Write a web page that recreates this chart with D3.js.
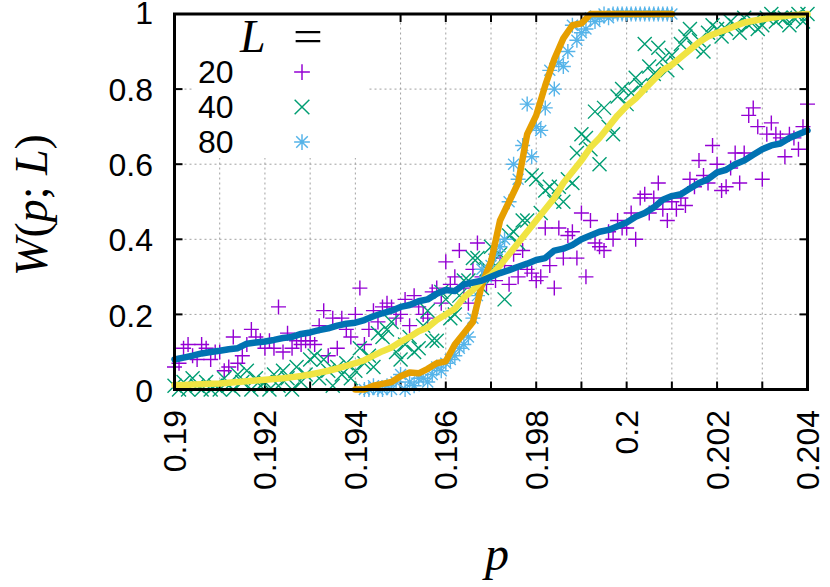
<!DOCTYPE html>
<meta charset="utf-8">
<style>
    body { margin: 0; background: #fff; }
    .grid { stroke: #a0a0a0; stroke-width: 1px; stroke-dasharray: 2,3; }
    .border { fill: none; stroke: #000; stroke-width: 3px; }
    .tick { stroke: #000; stroke-width: 2px; }
    .tick-label { font-family: 'Liberation Sans', Arial, sans-serif; font-size: 32px; fill: #000; }
    .math { font-family: 'Liberation Serif', 'DejaVu Serif', serif; fill: #000; }
    .fit { fill: none; stroke-width: 6.5px; stroke-linejoin: round; stroke-linecap: round; }
    .pt { fill: none; stroke-width: 1.4px; }
</style>
<body>
<div id="chart"></div>
<script src="https://cdn.jsdelivr.net/npm/d3@7"></script>
<script>
    var width = 830,
        height = 587;

    // p grid: points every 0.0001, fitted curves every 0.0002
    var p_start = 0.19,
        pt_step = 0.0001,
        fit_step = 0.0002;

    // measured W(p;L), L = 20, from p = 0.1900
    var w20 = [
        0.06, 0.07, 0.11, 0.12, 0.09, 0.08, 0.12, 0.11, 0.08, 0.10,
        0.10, 0.05, 0.06, 0.14, 0.07, 0.09, 0.12, 0.16, 0.14, 0.13,
        0.11, 0.13, 0.11, 0.22, 0.10, 0.15, 0.11, 0.13, 0.12, 0.13,
        0.13, 0.12, 0.17, 0.21, 0.09, 0.19, 0.11, 0.19, 0.16, 0.14,
        0.20, 0.27, 0.12, 0.16, 0.21, 0.18, 0.22, 0.23, 0.22, 0.19,
        0.20, 0.24, 0.17, 0.25, 0.22, 0.20, 0.19, 0.26, 0.27, 0.23,
        0.34, 0.28, 0.30, 0.37, 0.27, 0.23, 0.32, 0.39, 0.30, 0.28,
        0.31, 0.29, 0.35, 0.33, 0.28, 0.36, 0.30, 0.37, 0.32, 0.31,
        0.29, 0.30, 0.43, 0.33, 0.27, 0.43, 0.35, 0.41, 0.42, 0.35,
        0.47, 0.30, 0.45, 0.39, 0.38, 0.37, 0.42, 0.40, 0.45, 0.43,
        0.43, 0.47, 0.40, 0.51, 0.52, 0.47, 0.51, 0.55, 0.48, 0.45,
        0.50, 0.48, 0.51, 0.49, 0.56, 0.54, 0.61, 0.57, 0.55, 0.65,
        0.60, 0.53, 0.54, 0.59, 0.63, 0.55, 0.63, 0.73, 0.75, 0.70,
        0.56, 0.68, 0.71, 0.68, 0.67, 0.62, 0.68, 0.67, 0.64, 0.70, 0.76
    ];

    // L = 40, from p = 0.1900
    var w40 = [
        0.01, 0.00, 0.02, 0.00, 0.03, 0.01, 0.00, 0.02, 0.00, 0.01,
        0.00, 0.03, 0.01, 0.00, 0.04, 0.02, 0.05, 0.00, 0.03, 0.01,
        0.02, 0.00, 0.04, 0.01, 0.05, 0.03, 0.00, 0.06, 0.02, 0.04,
        0.08, 0.09, 0.03, 0.08, 0.05, 0.01, 0.06, 0.04, 0.07, 0.03,
        0.05, 0.11, 0.07, 0.09, 0.06, 0.15, 0.14, 0.16, 0.18, 0.10,
        0.08, 0.12, 0.14, 0.10, 0.11, 0.17, 0.21, 0.13, 0.13, 0.26,
        0.24, 0.19, 0.20, 0.25, 0.29, 0.29, 0.35, 0.35, 0.27, 0.32,
        0.38, 0.33, 0.36, 0.24, 0.41, 0.42, 0.39, 0.45, 0.45, 0.57,
        0.56, 0.47, 0.53, 0.54, 0.50, 0.54, 0.50, 0.56, 0.55, 0.63,
        0.68, 0.67, 0.64, 0.74, 0.60, 0.75, 0.70, 0.68, 0.78, 0.80,
        0.76, 0.79, 0.83, 0.81, 0.92, 0.86, 0.84, 0.91, 0.88, 0.85,
        0.89, 0.87, 0.92, 0.94, 0.96, 0.91, 0.93, 0.90, 0.95, 0.97,
        0.96, 0.94, 0.96, 0.98, 0.97, 0.95, 0.99, 0.97, 0.98, 0.96,
        0.97, 0.99, 1.00, 0.98, 0.99, 0.99, 0.97, 0.99, 1.00, 0.98, 1.00
    ];

    // L = 80, from p = 0.1942
    var p80_start = 0.1942;
    var w80 = [
        0.00, 0.00, 0.01, 0.00, 0.00, 0.01, 0.00, 0.02,
        0.04, 0.00, 0.02, 0.01, 0.03, 0.03, 0.02, 0.04, 0.06, 0.05,
        0.07, 0.08, 0.09, 0.11, 0.12, 0.14, 0.19, 0.25, 0.32, 0.30,
        0.33, 0.36, 0.38, 0.40, 0.50, 0.60, 0.56, 0.65, 0.76, 0.62,
        0.70, 0.69, 0.75, 0.85, 0.80, 0.87, 0.86, 0.90, 0.97, 0.93,
        0.95, 0.96, 0.99, 0.98, 0.99, 1.00, 0.99, 1.00, 1.00, 1.00,
        1.00, 1.00, 1.00, 1.00, 1.00, 1.00, 1.00, 1.00, 1.00, 1.00, 1.00
    ];

    // fitted curves
    var fit20 = [
        0.080, 0.085, 0.090, 0.096, 0.100, 0.103, 0.107, 0.110, 0.122, 0.125,
        0.128, 0.132, 0.137, 0.140, 0.148, 0.152, 0.158, 0.163, 0.170, 0.175,
        0.178, 0.185, 0.195, 0.203, 0.210, 0.220, 0.225, 0.235, 0.240, 0.255,
        0.265, 0.262, 0.280, 0.285, 0.290, 0.300, 0.310, 0.318, 0.327, 0.335,
        0.345, 0.350, 0.370, 0.375, 0.385, 0.400, 0.410, 0.420, 0.425, 0.435,
        0.445, 0.460, 0.470, 0.485, 0.505, 0.515, 0.520, 0.535, 0.550, 0.560,
        0.578, 0.585, 0.600, 0.610, 0.625, 0.640, 0.650, 0.655, 0.670, 0.680, 0.690
    ];
    var fit40 = [
        0.012, 0.012, 0.013, 0.014, 0.015, 0.016, 0.018, 0.020, 0.022, 0.024,
        0.026, 0.028, 0.030, 0.033, 0.036, 0.040, 0.045, 0.050, 0.056, 0.063,
        0.070, 0.078, 0.090, 0.102, 0.112, 0.127, 0.140, 0.155, 0.165, 0.185,
        0.200, 0.215, 0.245, 0.265, 0.290, 0.305, 0.330, 0.360, 0.390, 0.420,
        0.450, 0.480, 0.510, 0.550, 0.580, 0.610, 0.645, 0.670, 0.700, 0.730,
        0.755, 0.775, 0.800, 0.825, 0.850, 0.865, 0.885, 0.905, 0.925, 0.940,
        0.950, 0.958, 0.968, 0.977, 0.982, 0.986, 0.990, 0.993, 0.996, 0.998, 1.000
    ];
    var fit80_start = 0.194;
    var fit80 = [
        0.000, 0.000, 0.010, 0.015, 0.020, 0.035, 0.045, 0.043, 0.055, 0.070,
        0.075, 0.120, 0.150, 0.180, 0.280, 0.340, 0.450, 0.500, 0.550, 0.680,
        0.730, 0.810, 0.880, 0.935, 0.970, 0.975, 1.000, 1.000, 1.000, 1.000,
        1.000, 1.000, 1.000, 1.000, 1.000, 1.000
    ];

    var x_ticks = [0.19, 0.191, 0.192, 0.193, 0.194, 0.195, 0.196, 0.197,
                   0.198, 0.199, 0.2, 0.201, 0.202, 0.203, 0.204];
    var x_labels = ["0.19", "0.192", "0.194", "0.196", "0.198", "0.2", "0.202", "0.204"];
    var y_ticks = [0, 0.2, 0.4, 0.6, 0.8, 1];
    var y_labels = ["0", "0.2", "0.4", "0.6", "0.8", "1"];

    var legend_names = ["20", "40", "80"];

    var colors = { pt20: "#9400d3", pt40: "#009e73", pt80: "#56b4e9",
                   fit20: "#0072b2", fit40: "#f0e442", fit80: "#e69f00" };

    function to_points(vals, start, step) {
        return vals.map((w, i) => ({ p: start + i * step, w: w }));
    }

    var symbols = {
        plus: "M-7.5,0H7.5M0,-7.5V7.5",
        cross: "M-7,-7L7,7M-7,7L7,-7",
        star: "M-7.5,0H7.5M0,-7.5V7.5M-5.5,-5.5L5.5,5.5M-5.5,5.5L5.5,-5.5"
    };

    var x = d3.scaleLinear().domain([0.19, 0.204]).range([174.5, 807.5]),
        y = d3.scaleLinear().domain([0, 1]).range([389.5, 14]);

    var svg = d3.select("#chart").append("svg")
        .attr("width", width)
        .attr("height", height);

    // grid
    svg.selectAll(".grid-x")
        .data(x_ticks.slice(1, -1))
        .enter().append("line")
        .attr("class", "grid")
        .attr("x1", d => x(d)).attr("x2", d => x(d))
        .attr("y1", y(0)).attr("y2", y(1));

    svg.selectAll(".grid-y")
        .data(y_ticks.slice(1, -1))
        .enter().append("line")
        .attr("class", "grid")
        .attr("x1", x(0.19)).attr("x2", x(0.204))
        .attr("y1", d => y(d)).attr("y2", d => y(d));

    // ticks, mirrored on all sides
    x_ticks.forEach(d => {
        svg.append("line").attr("class", "tick")
            .attr("x1", x(d)).attr("x2", x(d)).attr("y1", y(0)).attr("y2", y(0) - 8);
        svg.append("line").attr("class", "tick")
            .attr("x1", x(d)).attr("x2", x(d)).attr("y1", y(1)).attr("y2", y(1) + 8);
    });
    y_ticks.forEach(d => {
        svg.append("line").attr("class", "tick")
            .attr("x1", x(0.19)).attr("x2", x(0.19) + 8).attr("y1", y(d)).attr("y2", y(d));
        svg.append("line").attr("class", "tick")
            .attr("x1", x(0.204)).attr("x2", x(0.204) - 8).attr("y1", y(d)).attr("y2", y(d));
    });

    // legend background hides the grid
    svg.append("rect")
        .attr("x", 192).attr("y", 15)
        .attr("width", 175).attr("height", 143)
        .attr("fill", "#fff");

    function draw_points(data, cls, sym, color) {
        svg.selectAll("." + cls)
            .data(data)
            .enter().append("path")
            .attr("class", "pt " + cls)
            .attr("d", symbols[sym])
            .attr("stroke", color)
            .attr("transform", d => "translate(" + x(d.p) + "," + y(d.w) + ")");
    }

    draw_points(to_points(w20, p_start, pt_step), "l20", "plus", colors.pt20);
    draw_points(to_points(w40, p_start, pt_step), "l40", "cross", colors.pt40);
    draw_points(to_points(w80, p80_start, pt_step), "l80", "star", colors.pt80);

    var line = d3.line()
        .x(d => x(d.p))
        .y(d => y(d.w));

    svg.append("path").datum(to_points(fit80, fit80_start, fit_step))
        .attr("class", "fit").attr("stroke", colors.fit80).attr("d", line);
    svg.append("path").datum(to_points(fit40, p_start, fit_step))
        .attr("class", "fit").attr("stroke", colors.fit40).attr("d", line);
    svg.append("path").datum(to_points(fit20, p_start, fit_step))
        .attr("class", "fit").attr("stroke", colors.fit20).attr("d", line);

    // border
    svg.append("rect")
        .attr("class", "border")
        .attr("x", x(0.19)).attr("y", y(1))
        .attr("width", x(0.204) - x(0.19))
        .attr("height", y(0) - y(1));

    // tick labels
    svg.selectAll(".ylab")
        .data(y_ticks)
        .enter().append("text")
        .attr("class", "tick-label")
        .attr("x", 153)
        .attr("y", d => y(d))
        .attr("dy", d => d === 1 ? "0.3em" : "0.38em")
        .attr("text-anchor", "end")
        .text((d, i) => y_labels[i]);

    svg.selectAll(".xlab")
        .data(x_labels)
        .enter().append("text")
        .attr("class", "tick-label")
        .attr("text-anchor", "end")
        .attr("dy", "0.36em")
        .attr("transform", d => "translate(" + x(+d) + ",410) rotate(-90)")
        .text(d => d);

    // legend
    svg.append("text").attr("class", "math")
        .attr("x", 240).attr("y", 52)
        .attr("font-size", 46).attr("font-style", "italic")
        .text("L");
    svg.append("text").attr("class", "math")
        .attr("font-size", 46)
        .attr("transform", "translate(293,52) scale(1.15,1)")
        .text("=");

    var legend_syms = ["plus", "cross", "star"],
        legend_cols = [colors.pt20, colors.pt40, colors.pt80];

    legend_names.forEach((name, i) => {
        svg.append("text")
            .attr("class", "tick-label")
            .attr("x", 198)
            .attr("y", 83 + i * 35)
            .text(name);
        svg.append("path")
            .attr("class", "pt")
            .attr("d", symbols[legend_syms[i]])
            .attr("stroke", legend_cols[i])
            .attr("transform", "translate(302," + (72 + i * 35) + ") scale(1.05)");
    });

    // axis titles
    var ytitle = svg.append("text").attr("class", "math")
        .attr("font-size", 46)
        .attr("text-anchor", "middle")
        .attr("transform", "translate(47,205) rotate(-90)");
    ytitle.append("tspan").attr("font-style", "italic").text("W");
    ytitle.append("tspan").text("(");
    ytitle.append("tspan").attr("font-style", "italic").text("p");
    ytitle.append("tspan").text("; ");
    ytitle.append("tspan").attr("font-style", "italic").text("L");
    ytitle.append("tspan").text(")");

    svg.append("text").attr("class", "math")
        .attr("x", 497).attr("y", 570)
        .attr("font-size", 48)
        .attr("font-style", "italic")
        .attr("text-anchor", "middle")
        .text("p");
</script>
</body>
